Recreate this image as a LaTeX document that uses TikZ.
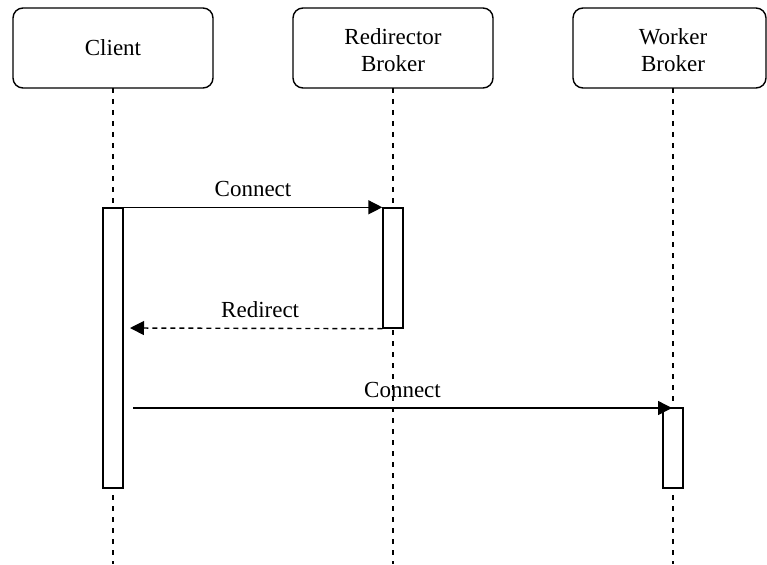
\documentclass[tikz,border=0pt]{standalone}
\usepackage{fontspec}
\setmainfont{Liberation Serif}
\usetikzlibrary{arrows.meta,calc}
\begin{document}
\begin{tikzpicture}[x=1pt,y=-1pt,
  every node/.style={font=\fontsize{23}{27}\selectfont},
  headbox/.style={draw, line width=1.4pt, rounded corners=10pt},
  headtext/.style={align=center, inner sep=0pt},
  lifeline/.style={line width=1.3pt, dash pattern=on 5pt off 6pt},
  actbox/.style={draw, fill=white, line width=1.4pt, minimum width=20pt, inner sep=0pt},
  msg/.style={line width=1.4pt, -{Triangle[length=14pt,width=14pt]}},
  ret/.style={line width=1.4pt, dash pattern=on 5pt off 4pt, -{Triangle[length=14pt,width=14pt]}},
  lbl/.style={midway, anchor=base, yshift=11pt, inner sep=0pt}
]
\useasboundingbox (0,0) rectangle (767,564);
% heads
\draw[headbox] (13,8) rectangle (213,88);
\draw[headbox] (293,8) rectangle (493,88);
\draw[headbox] (573,8) rectangle (766,88);
\node[headtext] (client) at (113,48) {Client};
\node[headtext] (redir) at (393,50) {Redirector\\Broker};
\node[headtext] (worker) at (673,50) {Worker\\Broker};
% lifeline ends
\coordinate (cend) at (113,564);
\coordinate (rend) at (393,564);
\coordinate (wend) at (673,564);
\coordinate (ctop) at (113,88);
\coordinate (rtop) at (393,88);
\coordinate (wtop) at (673,88);
\draw[lifeline] (ctop) -- (cend);
\draw[lifeline] (rtop) -- (rend);
\draw[lifeline] (wtop) -- (wend);
% activations
\node[actbox, minimum height=280pt] (ca) at (113,348) {};
\node[actbox, minimum height=120pt] (ra) at (393,268) {};
\node[actbox, minimum height=80pt] (wa) at (673,448) {};
% messages
\coordinate (rtip) at (130,328);
\coordinate (c2start) at (133,408);
\coordinate (c2tip) at (672,408);
\draw[msg] (ca.north east) -- (ra.north west) node[lbl] {Connect};
\draw[ret] (ra.south west) -- (rtip) node[lbl, xshift=4pt] {Redirect};
\draw[msg] (c2start) -- (c2tip) node[lbl] {Connect};
\end{tikzpicture}
\end{document}
